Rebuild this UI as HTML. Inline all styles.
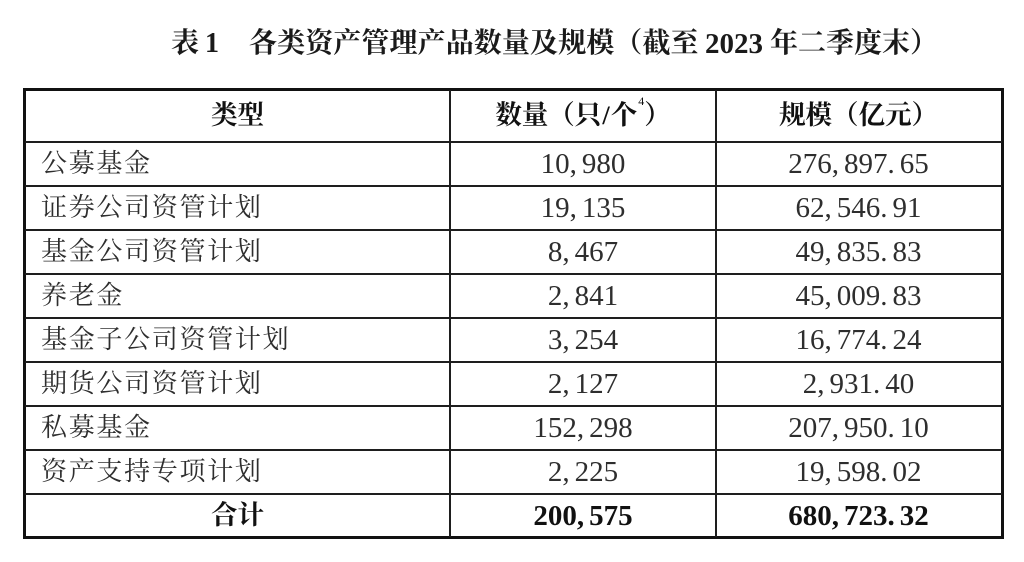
<!DOCTYPE html>
<html>
<head>
<meta charset="utf-8">
<style>
  html, body { margin:0; padding:0; background:#fff; }
  body { width:1024px; height:562px; position:relative; overflow:hidden; }
  .t { position:absolute; top:30px; font-family:"Liberation Serif","Noto Serif CJK SC",serif; font-weight:700; font-size:28px; line-height:28px; color:#1a1a1a; white-space:nowrap; }
  .box { position:absolute; left:23px; top:88px; width:981px; height:451px; border:3px solid #111; box-sizing:border-box; }
  .h { position:absolute; left:25px; width:977px; height:2px; background:#1e1e1e; }
  .v { position:absolute; top:90px; width:2px; height:447px; background:#1e1e1e; }
  .row { position:absolute; height:43px; display:flex; align-items:center; white-space:nowrap; }
  .c1 { left:41px; width:400px; }
  .c2 { left:451px; width:264px; justify-content:center; }
  .c3 { left:717px; width:283px; justify-content:center; }
  .cj { font-family:"Liberation Serif","Noto Serif CJK SC",serif; font-size:26px; line-height:26px; letter-spacing:1.7px; color:#2e2e2e; position:relative; top:-1px; }
  .num { font-family:"Liberation Serif","Noto Serif CJK SC",serif; font-size:29px; line-height:29px; color:#2e2e2e; }
  .p { margin-right:5px; }
  .b { font-weight:700; color:#111; }
  .hd { font-family:"Liberation Serif","Noto Serif CJK SC",serif; font-size:26.5px; line-height:27px; font-weight:700; color:#111; position:relative; top:-1px; }
  .ctr { justify-content:center; left:26px; width:423px; }
  .pr { margin:0 1px; }
  sup { font-size:12px; line-height:0; vertical-align:top; position:relative; top:-1px; font-weight:400; margin-left:1px; }
</style>
</head>
<body>
  <!-- Title -->
  <div class="t" style="left:171px;">表</div>
  <div class="t" style="left:205px;">1</div>
  <div class="t" style="left:249px; letter-spacing:0.1px;">各类资产管理产品数量及规模（截至</div>
  <div class="t" style="left:705px; font-size:29px;">2023</div>
  <div class="t" style="left:770px;">年二季度末）</div>

  <!-- Table frame -->
  <div class="box"></div>
  <div class="v" style="left:449px;"></div>
  <div class="v" style="left:715px;"></div>
  <div class="h" style="top:141px;"></div>
  <div class="h" style="top:185px;"></div>
  <div class="h" style="top:229px;"></div>
  <div class="h" style="top:273px;"></div>
  <div class="h" style="top:317px;"></div>
  <div class="h" style="top:361px;"></div>
  <div class="h" style="top:405px;"></div>
  <div class="h" style="top:449px;"></div>
  <div class="h" style="top:493px;"></div>

  <!-- Header -->
  <div class="row ctr" style="top:91px; height:50px;"><span class="hd">类型</span></div>
  <div class="row c2" style="top:91px; height:50px;"><span class="hd">数量（只<span class="pr">/</span>个<sup>4</sup>）</span></div>
  <div class="row c3" style="top:91px; height:50px;"><span class="hd">规模（亿元）</span></div>

  <!-- Row 1 -->
  <div class="row c1" style="top:143px;"><span class="cj">公募基金</span></div>
  <div class="row c2" style="top:143px;"><span class="num">10<span class="p">,</span>980</span></div>
  <div class="row c3" style="top:143px;"><span class="num">276<span class="p">,</span>897<span class="p">.</span>65</span></div>

  <!-- Row 2 -->
  <div class="row c1" style="top:187px;"><span class="cj">证券公司资管计划</span></div>
  <div class="row c2" style="top:187px;"><span class="num">19<span class="p">,</span>135</span></div>
  <div class="row c3" style="top:187px;"><span class="num">62<span class="p">,</span>546<span class="p">.</span>91</span></div>

  <!-- Row 3 -->
  <div class="row c1" style="top:231px;"><span class="cj">基金公司资管计划</span></div>
  <div class="row c2" style="top:231px;"><span class="num">8<span class="p">,</span>467</span></div>
  <div class="row c3" style="top:231px;"><span class="num">49<span class="p">,</span>835<span class="p">.</span>83</span></div>

  <!-- Row 4 -->
  <div class="row c1" style="top:275px;"><span class="cj">养老金</span></div>
  <div class="row c2" style="top:275px;"><span class="num">2<span class="p">,</span>841</span></div>
  <div class="row c3" style="top:275px;"><span class="num">45<span class="p">,</span>009<span class="p">.</span>83</span></div>

  <!-- Row 5 -->
  <div class="row c1" style="top:319px;"><span class="cj">基金子公司资管计划</span></div>
  <div class="row c2" style="top:319px;"><span class="num">3<span class="p">,</span>254</span></div>
  <div class="row c3" style="top:319px;"><span class="num">16<span class="p">,</span>774<span class="p">.</span>24</span></div>

  <!-- Row 6 -->
  <div class="row c1" style="top:363px;"><span class="cj">期货公司资管计划</span></div>
  <div class="row c2" style="top:363px;"><span class="num">2<span class="p">,</span>127</span></div>
  <div class="row c3" style="top:363px;"><span class="num">2<span class="p">,</span>931<span class="p">.</span>40</span></div>

  <!-- Row 7 -->
  <div class="row c1" style="top:407px;"><span class="cj">私募基金</span></div>
  <div class="row c2" style="top:407px;"><span class="num">152<span class="p">,</span>298</span></div>
  <div class="row c3" style="top:407px;"><span class="num">207<span class="p">,</span>950<span class="p">.</span>10</span></div>

  <!-- Row 8 -->
  <div class="row c1" style="top:451px;"><span class="cj">资产支持专项计划</span></div>
  <div class="row c2" style="top:451px;"><span class="num">2<span class="p">,</span>225</span></div>
  <div class="row c3" style="top:451px;"><span class="num">19<span class="p">,</span>598<span class="p">.</span>02</span></div>

  <!-- Total -->
  <div class="row ctr" style="top:495px;"><span class="hd">合计</span></div>
  <div class="row c2" style="top:495px;"><span class="num b">200<span class="p">,</span>575</span></div>
  <div class="row c3" style="top:495px;"><span class="num b">680<span class="p">,</span>723<span class="p">.</span>32</span></div>
</body>
</html>
